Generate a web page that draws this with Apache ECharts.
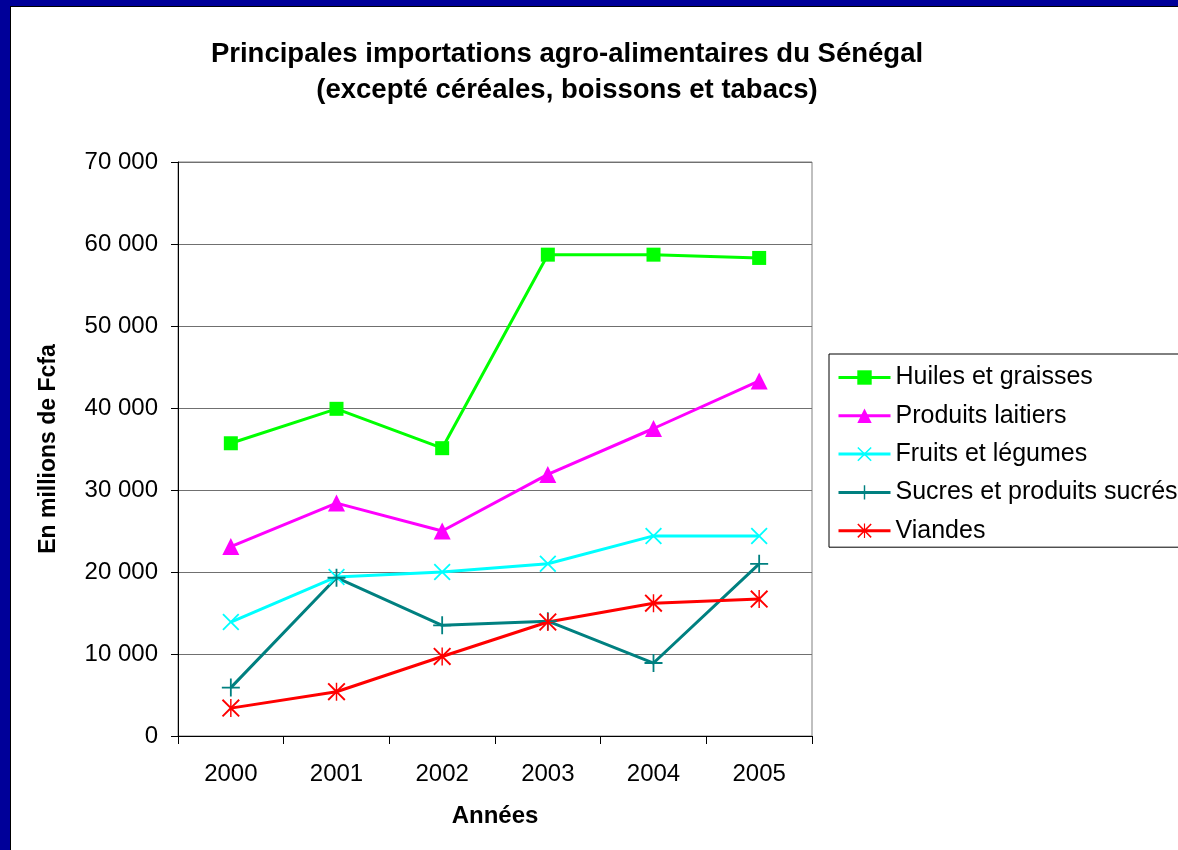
<!DOCTYPE html>
<html>
<head>
<meta charset="utf-8">
<script src="https://cdn.jsdelivr.net/npm/echarts@6/dist/echarts.min.js"></script>
<style>
  html, body { margin: 0; padding: 0; background: #fff; }
  #chart { width: 1178px; height: 850px; }
</style>
</head>
<body>
<div id="chart"></div>
<script>
// données (millions de Fcfa)
const years = ['2000', '2001', '2002', '2003', '2004', '2005'];
const huiles = [35700, 39900, 35100, 58700, 58700, 58300];
const laitiers = [23100, 28400, 25000, 31900, 37500, 43300];
const fruits = [13900, 19400, 20000, 21000, 24400, 24400];
const sucres = [5900, 19300, 13500, 14000, 8900, 21000];
const viandes = [3400, 5400, 9700, 13900, 16200, 16700];
const yTicks = [0, 10000, 20000, 30000, 40000, 50000, 60000, 70000];

const crossX = 'path://M0,1.5 L1.5,0 L10,8.5 L18.5,0 L20,1.5 L11.5,10 L20,18.5 L18.5,20 L10,11.5 L1.5,20 L0,18.5 L8.5,10 Z';
const plus = 'path://M9,0 L11,0 L11,9 L20,9 L20,11 L11,11 L11,20 L9,20 L9,11 L0,11 L0,9 L9,9 Z';
const star = 'path://M0,1.5 L1.5,0 L10,8.5 L18.5,0 L20,1.5 L11.5,10 L20,18.5 L18.5,20 L10,11.5 L1.5,20 L0,18.5 L8.5,10 Z M9.2,0 L10.8,0 L10.8,20 L9.2,20 Z';

const font = 'Liberation Sans, Arial, sans-serif';

function fmt(v) {
    return String(v).replace(/\B(?=(\d{3})+(?!\d))/g, ' ');
}

function line(name, data, color, symbol, size) {
    return {
        name: name,
        type: 'line',
        data: data,
        symbol: symbol,
        symbolSize: size,
        showAllSymbol: true,
        lineStyle: { color: color, width: 3 },
        itemStyle: { color: color, borderWidth: 0 },
        emphasis: { disabled: true },
        animation: false
    };
}

const chart = echarts.init(document.getElementById('chart'));
chart.setOption({
    backgroundColor: '#fff',
    animation: false,
    title: {
        text: 'Principales importations agro-alimentaires du Sénégal\n(excepté céréales, boissons et tabacs)',
        left: 562,
        top: 31,
        textAlign: 'center',
        textStyle: {
            fontFamily: font,
            fontSize: 27.5,
            fontWeight: 'bold',
            color: '#000',
            lineHeight: 36
        }
    },
    graphic: [
        { type: 'rect', shape: { x: 0, y: 0, width: 10, height: 850 }, style: { fill: '#000099' }, z: 100 },
        { type: 'rect', shape: { x: 0, y: 0, width: 1178, height: 6 }, style: { fill: '#000099' }, z: 100 },
        { type: 'line', shape: { x1: 10.5, y1: 6, x2: 10.5, y2: 850 }, style: { stroke: '#000', lineWidth: 1 }, z: 100 },
        { type: 'line', shape: { x1: 10, y1: 6.5, x2: 1178, y2: 6.5 }, style: { stroke: '#000', lineWidth: 1 }, z: 100 }
    ],
    legend: {
        orient: 'vertical',
        left: 829,
        top: 354,
        padding: [11, 300, 4, 8],
        itemGap: 13.3,
        itemWidth: 52,
        itemHeight: 18,
        borderColor: '#000',
        borderWidth: 1,
        backgroundColor: '#fff',
        lineStyle: { width: 3 },
        textStyle: {
            fontFamily: font,
            fontSize: 25,
            color: '#000',
            lineHeight: 25
        },
        data: ['Huiles et graisses', 'Produits laitiers', 'Fruits et légumes', 'Sucres et produits sucrés', 'Viandes']
    },
    grid: {
        left: 178,
        right: 366,
        top: 162,
        bottom: 114,
        show: true,
        borderColor: '#808080',
        borderWidth: 1
    },
    xAxis: {
        type: 'category',
        data: years,
        boundaryGap: true,
        name: 'Années',
        nameLocation: 'middle',
        nameGap: 68,
        nameTextStyle: {
            fontFamily: font,
            fontSize: 24,
            fontWeight: 'bold',
            color: '#000'
        },
        axisLine: { lineStyle: { color: '#000', width: 1 } },
        axisTick: { show: true, length: 8, interval: 0, lineStyle: { color: '#000' } },
        axisLabel: {
            margin: 26,
            fontFamily: font,
            fontSize: 24,
            color: '#000'
        },
        splitLine: { show: false }
    },
    yAxis: {
        type: 'value',
        min: yTicks[0],
        max: yTicks[yTicks.length - 1],
        interval: 10000,
        name: 'En millions de Fcfa',
        nameLocation: 'middle',
        nameGap: 118,
        nameTextStyle: {
            fontFamily: font,
            fontSize: 23,
            fontWeight: 'bold',
            color: '#000'
        },
        axisLine: { show: true, lineStyle: { color: '#000', width: 1 } },
        axisTick: { show: true, length: 7, lineStyle: { color: '#000' } },
        axisLabel: {
            margin: 20,
            fontFamily: font,
            fontSize: 24,
            color: '#000',
            formatter: fmt
        },
        splitLine: { show: true, lineStyle: { color: '#707070', width: 1 } }
    },
    series: [
        line('Huiles et graisses', huiles, '#00ff00', 'rect', 14),
        line('Produits laitiers', laitiers, '#ff00ff', 'triangle', 17),
        line('Fruits et légumes', fruits, '#00ffff', crossX, 17),
        line('Sucres et produits sucrés', sucres, '#008080', plus, 18),
        line('Viandes', viandes, '#ff0000', star, 18)
    ]
});
</script>
</body>
</html>
